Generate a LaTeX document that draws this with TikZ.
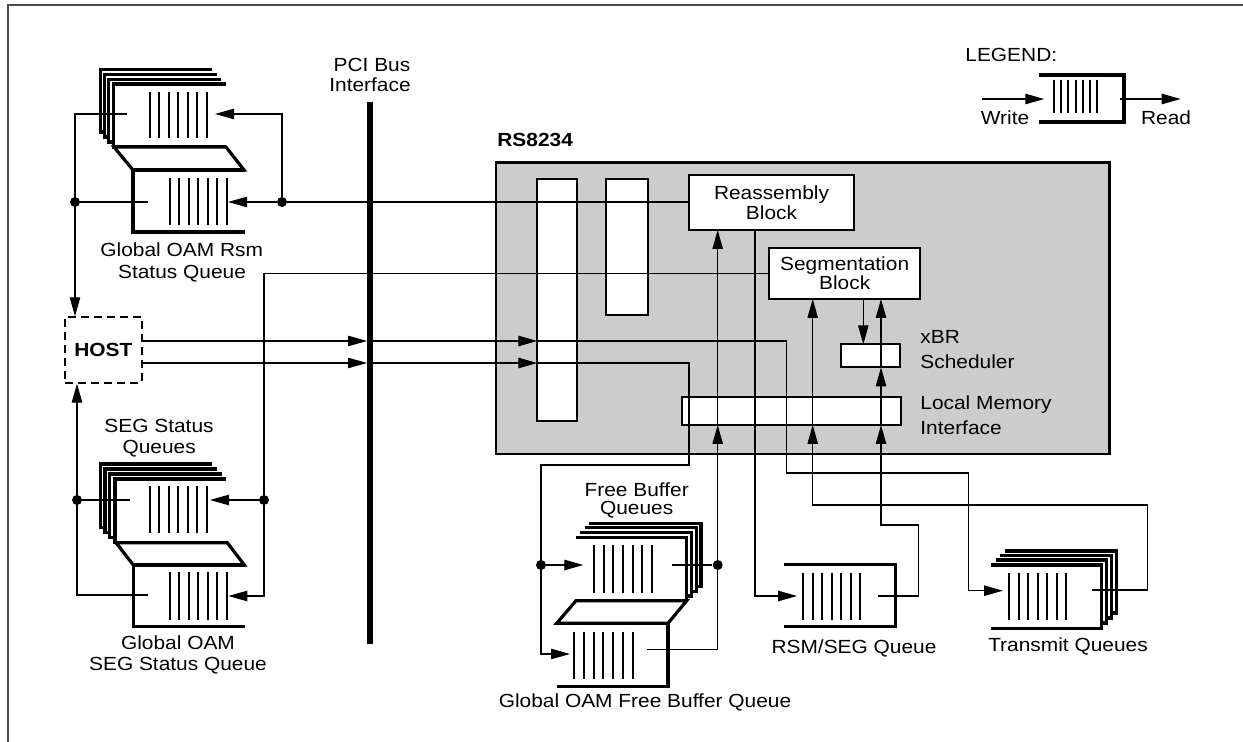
\documentclass[tikz,border=0pt]{standalone}
\usepackage{fontspec}
\setmainfont[FakeStretch=1.1]{Liberation Sans}
\usetikzlibrary{arrows.meta}
\tikzset{
  conn/.style={line width=0.65pt},
  arr/.style={conn,-{Triangle[length=9.5pt,width=5.2pt]}},
  qshape/.style={line width=1.6pt, fill=white, line join=miter},
  qbar/.style={line width=1pt},
  blk/.style={draw, line width=1pt, fill=white, inner sep=0pt},
  jdot/.style={circle, fill=black, inner sep=0pt, minimum size=5pt},
  txt/.style={font=\fontsize{9.5}{10.5}\selectfont, inner sep=0pt},
  btxt/.style={font=\fontsize{9.5}{10.5}\selectfont\bfseries, inner sep=0pt},
  blktxt/.style={align=center, font=\fontsize{9.5}{9.8}\selectfont},
  pcibus/.style={line width=2.7pt},
  frame/.style={line width=0.85pt, draw=black!70},
}
\newcommand\QopenR[4]{\draw[qshape] (#3,#2) -- (#1,#2) -- (#1,#4) -- (#3,#4);}
\newcommand\QopenL[4]{\draw[qshape] (#1,#2) -- (#3,#2) -- (#3,#4) -- (#1,#4);}
\newcommand\Qbars[4]{\foreach \qi in {0,...,6}{\draw[qbar] ({#1+\qi*(#2-#1)/6},#3) -- ({#1+\qi*(#2-#1)/6},#4);}}
\begin{document}
\begin{tikzpicture}[x=0.5pt,y=-0.5pt]
\useasboundingbox (0,0) rectangle (1243,742);
% frame
\draw[frame] (8,742) -- (8,5) -- (1243,5);

% ---------- RS8234 chip ----------
\node[draw, line width=1.35pt, fill=black!20, minimum width=306.65pt, minimum height=145.85pt, inner sep=0pt] (chip) at (802.65,308.15) {};
\node[btxt, anchor=base west] (tChip) at (497,147) {RS8234};
\node[blk, minimum width=19.7pt, minimum height=121pt] (bar1) at (557,300) {};
\node[blk, minimum width=21.3pt, minimum height=68pt] (bar2) at (627,247) {};
\node[blk, blktxt, minimum width=82.5pt, minimum height=27.5pt] (reasm) at (771.5,202.5) {Reassembly\\Block};
\node[blk, blktxt, minimum width=75.35pt, minimum height=25.65pt] (seg) at (844.65,273.35) {Segmentation\\Block};
\node[blk, minimum width=29.5pt, minimum height=11.5pt] (xbr) at (870.5,355.8) {};
\node[blk, minimum width=109.2pt, minimum height=13.85pt] (lmi) at (791.5,411.15) {};
\node[txt, anchor=base west] (tX1) at (920,343.3) {xBR};
\node[txt, anchor=base west] (tX2) at (920,368.3) {Scheduler};
\node[txt, anchor=base west] (tL1) at (920,410) {Local Memory};
\node[txt, anchor=base west] (tL2) at (920,435) {Interface};

% ---------- PCI bus ----------
\coordinate (pciTop) at (370,101.7);
\coordinate (pciBot) at (370,644);
\draw[pcibus] (pciTop) -- (pciBot);
\node[txt, anchor=base] (tPci1) at (372,71.7) {PCI Bus};
\node[txt, anchor=base] (tPci2) at (370,91.7) {Interface};

% ---------- HOST ----------
\node[draw, dashed, dash pattern=on 4pt off 2.5pt, line width=1pt, minimum width=38.35pt, minimum height=32.7pt, inner sep=0pt, font=\fontsize{9.5}{10.5}\selectfont\bfseries] (host) at (103.35,350) {HOST};

% ---------- Global OAM Rsm stack ----------
\QopenR{100.7}{69.3}{212}{132}
\QopenR{104.5}{74.3}{216.7}{137}
\QopenR{108.5}{79.3}{221}{142}
\QopenR{113.5}{84}{225.7}{147}
\draw[qshape] (114,147) -- (226,147) -- (244,170) -- (133,170) -- cycle;
\QopenR{133}{170}{245}{232}
\Qbars{150}{206.7}{92}{138}
\Qbars{170}{226.7}{178}{225}
\node[txt, anchor=base] (tRsm1) at (181.7,256.7) {Global OAM Rsm};
\node[txt, anchor=base] (tRsm2) at (182,278.3) {Status Queue};

% ---------- SEG status stack ----------
\QopenR{100.7}{464}{212.3}{527.7}
\QopenR{105}{469}{216.7}{532.7}
\QopenR{109.5}{474}{221.7}{537.7}
\QopenR{115}{479}{226}{542.7}
\draw[qshape] (116,542.7) -- (227.3,542.7) -- (244.3,565) -- (133.3,565) -- cycle;
\QopenR{133.3}{565}{245}{626.7}
\Qbars{150}{206.7}{486}{533.3}
\Qbars{170}{226.7}{571.7}{620}
\node[txt, anchor=base] (tSeg1) at (159,432.3) {SEG Status};
\node[txt, anchor=base] (tSeg2) at (159.2,453.3) {Queues};
\node[txt, anchor=base] (tGseg1) at (178,650) {Global OAM};
\node[txt, anchor=base] (tGseg2) at (178,671) {SEG Status Queue};

% ---------- Free buffer stack ----------
\QopenL{589}{523.3}{701}{586.7}
\QopenL{584.5}{527.7}{696.7}{591.7}
\QopenL{580}{532.3}{691.7}{596}
\QopenL{576}{537.3}{686.7}{600.7}
\draw[qshape] (576,600.7) -- (686.7,600.7) -- (668,623.3) -- (556.7,623.3) -- cycle;
\QopenL{556.7}{623.3}{668}{686.7}
\Qbars{594.3}{651.7}{545}{593.3}
\Qbars{574}{632.7}{631.7}{679.3}
\node[txt, anchor=base] (tFb1) at (636.7,496.7) {Free Buffer};
\node[txt, anchor=base] (tFb2) at (636.7,515) {Queues};
\node[txt, anchor=base] (tGfb) at (645,708) {Global OAM Free Buffer Queue};

% ---------- RSM/SEG queue ----------
\QopenL{784.3}{564.3}{895.7}{626.7}
\Qbars{803.3}{860}{572.7}{620}
\node[txt, anchor=base] (tRs) at (854,653.3) {RSM/SEG Queue};

% ---------- Transmit queues ----------
\QopenL{1005}{551}{1116.7}{613}
\QopenL{1000.3}{555.7}{1111.7}{618}
\QopenL{995.7}{560}{1106.7}{623}
\QopenL{991}{565}{1101.7}{628.3}
\Qbars{1009.3}{1066}{573.3}{620}
\node[txt, anchor=base] (tTx) at (1068,651.7) {Transmit Queues};

% ---------- Legend ----------
\node[txt, anchor=base west] (tLeg) at (965,61.7) {LEGEND:};
\QopenL{1039}{75}{1124}{122}
\Qbars{1054.3}{1096.7}{80}{113.3}
\coordinate (lgW0) at (981.7,99);
\coordinate (lgW1) at (1044.3,99);
\coordinate (lgR0) at (1120,99);
\coordinate (lgR1) at (1180.7,99);
\draw[arr] (lgW0) -- (lgW1);
\draw[arr] (lgR0) -- (lgR1);
\node[txt, anchor=base] (tW) at (1005,125) {Write};
\node[txt, anchor=base west] (tR) at (1140.7,125) {Read};

% ---------- junctions & ports ----------
\node[jdot] (d1) at (282,202) {};
\node[jdot] (d2) at (75,202) {};
\node[jdot] (d3) at (77,500) {};
\node[jdot] (d4) at (264,500) {};
\node[jdot] (d5) at (541,565) {};
\node[jdot] (d6) at (717.7,565) {};
\coordinate (rsmA) at (282,114);
\coordinate (rsmTopIn) at (215,114);
\coordinate (rsmLowIn) at (228,202);
\coordinate (rsmTopOut) at (127,114);
\coordinate (rsmLowOut) at (148,202);
\coordinate (c1) at (75,114);
\coordinate (segTopIn) at (210,500);
\coordinate (segLowIn) at (228.3,596);
\coordinate (segTopOut) at (130,500);
\coordinate (segLowOut) at (148,595);
\coordinate (c2) at (77,595);
\coordinate (c3) at (264,273.35);
\coordinate (c4) at (264,596);
\coordinate (h1) at (141.7,341);
\coordinate (h2) at (141.7,363);
\coordinate (p1) at (367,341);
\coordinate (p2) at (367,363);
\coordinate (b1) at (537.3,341);
\coordinate (b2) at (537.3,363);
\coordinate (u1) at (786.7,341);
\coordinate (u2) at (786.7,473);
\coordinate (u3) at (968.3,473);
\coordinate (u4) at (968.3,590.7);
\coordinate (txIn) at (1003,590.7);
\coordinate (v1) at (689,363);
\coordinate (v2) at (689,465);
\coordinate (v3) at (541,465);
\coordinate (v4) at (541,654);
\coordinate (fbLowIn) at (570,654);
\coordinate (fbTopIn) at (583.3,565);
\coordinate (fbTopOut) at (671.7,565);
\coordinate (fbLowOut) at (646.7,649.3);
\coordinate (c9) at (717.7,649.3);
\coordinate (lmiA) at (717.7,425);
\coordinate (reA) at (717.7,230);
\coordinate (reB) at (755,230);
\coordinate (c10) at (755,596);
\coordinate (rsIn) at (797,596);
\coordinate (rsOut) at (878.3,596);
\coordinate (w1) at (918.3,596);
\coordinate (w2) at (918.3,525);
\coordinate (w3) at (881,525);
\coordinate (lmiC) at (881,425);
\coordinate (xbrB) at (881,367.3);
\coordinate (segC) at (881,299);
\coordinate (txOut) at (1091.7,590);
\coordinate (t1) at (1147.3,590);
\coordinate (t2) at (1147.3,505);
\coordinate (t3) at (812.7,505);
\coordinate (lmiB) at (812.7,425);
\coordinate (segB) at (812.7,299);
\coordinate (segD) at (863.3,299);
\coordinate (xbrT) at (863.3,344.3);

% ---------- connectors ----------
\draw[conn] (reasm.west |- d1) -- (d1);
\draw[arr] (d1) -- (rsmLowIn);
\draw[arr] (d1) -- (rsmA) -- (rsmTopIn);
\draw[conn] (rsmLowOut) -- (d2);
\draw[arr] (rsmTopOut) -- (c1) -- (host.north -| c1);
\draw[arr] (seg.west) -- (c3) -- (c4) -- (segLowIn);
\draw[arr] (d4) -- (segTopIn);
\draw[conn] (segTopOut) -- (d3);
\draw[arr] (segLowOut) -- (c2) -- (host.south -| c2);
\draw[arr] (h1) -- (p1);
\draw[arr] (p1) -- (b1);
\draw[arr] (b1) -- (u1) -- (u2) -- (u3) -- (u4) -- (txIn);
\draw[arr] (h2) -- (p2);
\draw[arr] (p2) -- (b2);
\draw[arr] (b2) -- (v1) -- (v2) -- (v3) -- (v4) -- (fbLowIn);
\draw[arr] (d5) -- (fbTopIn);
\draw[conn] (fbTopOut) -- (d6);
\draw[arr] (fbLowOut) -- (c9) -- (lmiA);
\draw[arr] (lmiA) -- (reA);
\draw[arr] (reB) -- (c10) -- (rsIn);
\draw[arr] (rsOut) -- (w1) -- (w2) -- (w3) -- (lmiC);
\draw[arr] (lmiC) -- (xbrB);
\draw[arr] (xbrB) -- (segC);
\draw[arr] (txOut) -- (t1) -- (t2) -- (t3) -- (lmiB);
\draw[arr] (lmiB) -- (segB);
\draw[arr] (segD) -- (xbrT);
\end{tikzpicture}
\end{document}
